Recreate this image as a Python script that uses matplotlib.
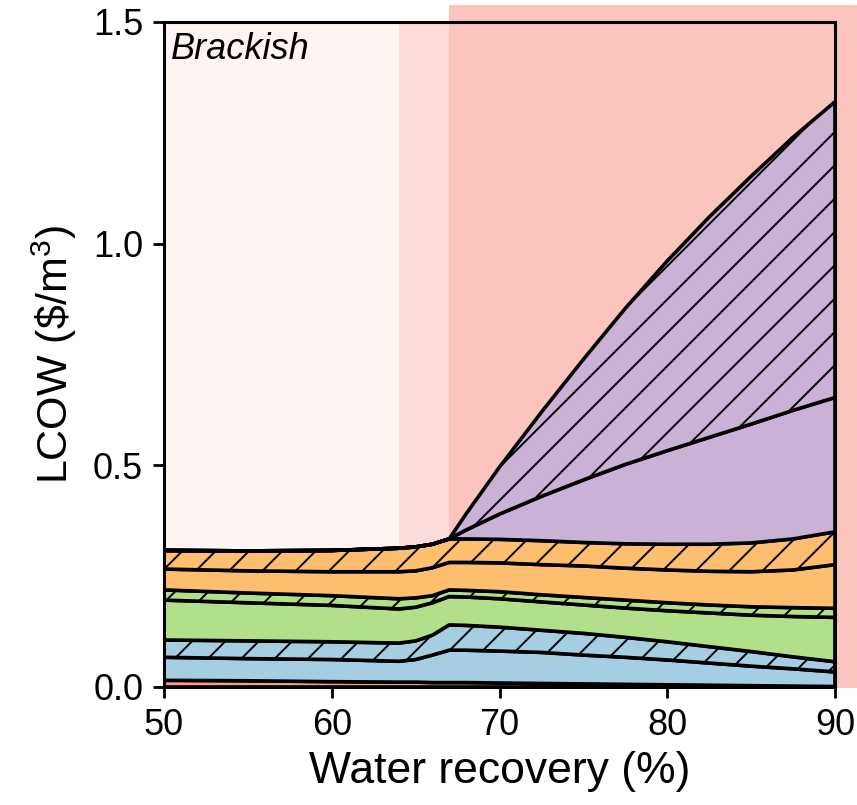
import numpy as np
import matplotlib
matplotlib.use('Agg')
import matplotlib.pyplot as plt
from matplotlib.patches import Rectangle

plt.rcParams['font.family'] = ['Liberation Sans', 'DejaVu Sans']
plt.rcParams['mathtext.default'] = 'regular'
plt.rcParams['hatch.linewidth'] = 0.7
plt.rcParams['hatch.color'] = '#222222'

# water recovery (%)
recovery = [50, 55, 60, 64, 65, 66, 67, 68, 70, 72.5, 75, 77.5, 80, 82.5, 85, 87.5, 90]

# cost components, $/m3 (bottom to top)
pink = [.015, .014, .012, .011, .011, .010, .010, .010, .009, .008, .007, .006, .005, .004, .003, .002, .001]
blue = [.052, .050, .050, .047, .051, .062, .073, .073, .072, .070, .065, .061, .056, .050, .044, .039, .033]
blue_h = [.039, .040, .040, .041, .042, .045, .057, .056, .054, .050, .049, .045, .041, .037, .033, .027, .023]
green = [.090, .086, .082, .077, .076, .073, .064, .064, .064, .064, .064, .066, .070, .076, .082, .091, .100]
green_h = [.023, .022, .022, .023, .021, .016, .015, .015, .016, .016, .017, .018, .018, .018, .019, .020, .0205]
orange = [.047, .050, .054, .061, .061, .063, .062, .063, .065, .068, .071, .072, .074, .076, .079, .085, .0985]
orange_h = [.042, .045, .048, .053, .054, .053, .053, .053, .053, .054, .053, .055, .058, .061, .065, .070, .074]
purple = [0, 0, 0, 0, 0, 0, 0, .020, .057, .100, .141, .179, .211, .241, .268, .290, .303]
purple_h = [0, 0, 0, 0, 0, 0, 0, .036, .106, .190, .272, .352, .428, .497, .559, .616, .667]

layers = [pink, blue, blue_h, green, green_h, orange, orange_h, purple, purple_h]
colors = ['#fb9a99', '#a6cee3', '#a6cee3', '#b2df8a', '#b2df8a',
          '#fdbf6f', '#fdbf6f', '#cab2d6', '#cab2d6']
hatches = ['', '', '//', '', '//', '', '//', '', '//']

fig = plt.figure(figsize=(4.285, 4.025), dpi=200)
ax = fig.add_axes([0.1914, 0.1466, 0.7829, 0.8261])

# feasibility regions
ax.axvspan(50, 64, color='#fef4f1', lw=0, zorder=0)
ax.axvspan(64, 67, color='#fcdcd9', lw=0, zorder=0)
ax.add_patch(Rectangle((67, -0.003), 30, 1.541, color='#fbc4bf', lw=0,
                       zorder=0, clip_on=False))

ax.stackplot(recovery, *layers, colors=colors, hatch=hatches,
             edgecolor='black', linewidth=1.3, zorder=2)

ax.text(0.01, 0.985, 'Brackish', transform=ax.transAxes, fontsize=13,
        style='italic', ha='left', va='top')

ax.set_xlim(50, 90)
ax.set_ylim(0, 1.5)
ax.set_xticks([50, 60, 70, 80, 90])
ax.set_yticks([0, 0.5, 1.0, 1.5])
ax.set_yticklabels(['0.0', '0.5', '1.0', '1.5'])
ax.tick_params(labelsize=13, width=1.0, length=4, direction='out')
ax.set_xlabel('Water recovery (%)', fontsize=16, labelpad=3)
ax.set_ylabel('LCOW (\\$/m$^3$)', fontsize=15.5, labelpad=5)
for s in ax.spines.values():
    s.set_linewidth(1.1)
    s.set_zorder(5)

fig.savefig('out.png', dpi=200)
